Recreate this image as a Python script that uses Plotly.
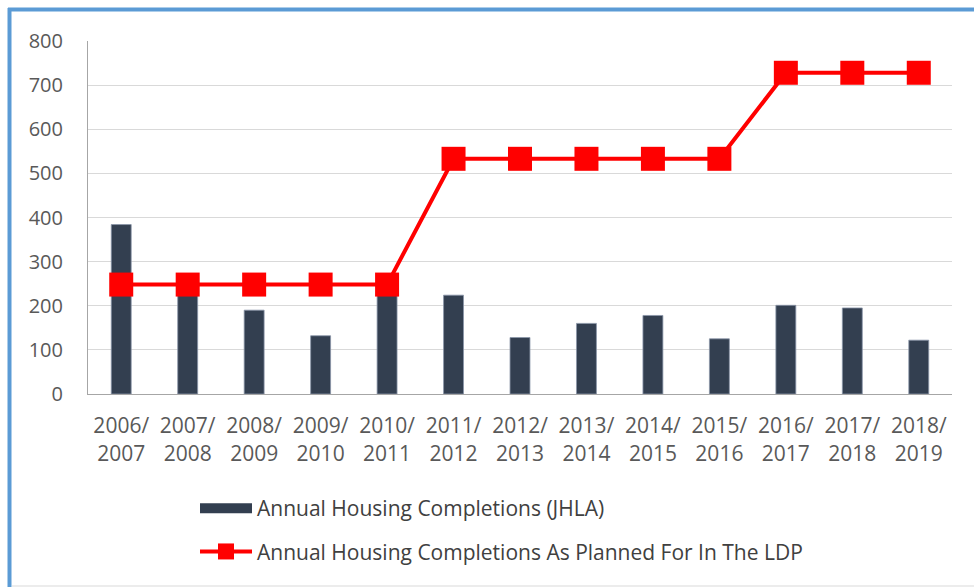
import plotly.graph_objects as go

periods = ["2006/<br>2007", "2007/<br>2008", "2008/<br>2009", "2009/<br>2010", "2010/<br>2011",
           "2011/<br>2012", "2012/<br>2013", "2013/<br>2014", "2014/<br>2015", "2015/<br>2016",
           "2016/<br>2017", "2017/<br>2018", "2018/<br>2019"]
completions_jhla = [384, 235, 190, 132, 232, 224, 128, 160, 178, 125, 201, 195, 122]
planned_ldp = [248, 248, 248, 248, 248, 533, 533, 533, 533, 533, 728, 728, 728]
y_ticks = [0, 100, 200, 300, 400, 500, 600, 700, 800]

BAR_NAME = "Annual Housing Completions (JHLA)"
LINE_NAME = "Annual Housing Completions As Planned For In The LDP"
BAR_COLOR = "#333F50"
LINE_COLOR = "#FF0000"
FONT = "Open Sans"

fig = go.Figure()
fig.add_trace(go.Bar(x=periods, y=completions_jhla, name=BAR_NAME, showlegend=False,
                     marker=dict(color=BAR_COLOR, line=dict(color="#8A96A8", width=0.8))))
fig.add_trace(go.Scatter(x=periods, y=planned_ldp, name=LINE_NAME, mode="lines+markers",
                         line=dict(color=LINE_COLOR, width=4),
                         marker=dict(symbol="square", size=24, color=LINE_COLOR),
                         legendgroup="b", showlegend=False))
# legend entries
fig.add_trace(go.Scatter(x=[None], y=[None], name=BAR_NAME, mode="lines",
                         line=dict(color=BAR_COLOR, width=13), legendgroup="a"))
fig.add_trace(go.Scatter(x=[None], y=[None], name=LINE_NAME, mode="lines+markers",
                         line=dict(color=LINE_COLOR, width=4),
                         marker=dict(symbol="square", size=16, color=LINE_COLOR),
                         legendgroup="b"))

L, R, T, B = 88, 22, 41, 193
W, H = 974, 587
pw, ph = W - L - R, H - T - B

def px_x(x):
    return (x - L) / pw

def px_y(y):
    return 1 - (y - T) / ph

fig.update_layout(
    width=W, height=H,
    margin=dict(l=L, r=R, t=T, b=B, pad=0),
    paper_bgcolor="white", plot_bgcolor="white",
    font=dict(family=FONT, size=19, color="#595959"),
    bargap=0.7,
    legend=dict(x=px_x(195), y=px_y(488), xanchor="left", yanchor="top",
                orientation="v", traceorder="grouped", tracegroupgap=13,
                itemwidth=52, font=dict(family=FONT, size=21, color="#404040"),
                bgcolor="rgba(0,0,0,0)"),
    xaxis=dict(range=[-0.5, len(periods) - 0.5], showgrid=False, showline=True,
               linecolor="#A6A6A6", linewidth=1,
               ticks="", ticklabelstandoff=13, tickfont=dict(size=21, color="#595959"),
               fixedrange=True),
    yaxis=dict(range=[0, 800], tickvals=y_ticks, showgrid=True, gridcolor="#D9D9D9",
               gridwidth=1, showline=True, linecolor="#A6A6A6", linewidth=1,
               ticks="", ticklabelstandoff=20, zeroline=False, fixedrange=True,
               tickfont=dict(size=20, color="#595959")),
    shapes=[
        dict(type="line", xref="paper", yref="paper", x0=px_x(9.5), x1=px_x(9.5),
             y0=px_y(H + 5), y1=px_y(8), line=dict(color="#5B9BD5", width=4)),
        dict(type="line", xref="paper", yref="paper", x0=px_x(8), x1=px_x(W + 5),
             y0=px_y(9.5), y1=px_y(9.5), line=dict(color="#5B9BD5", width=4)),
        dict(type="line", xref="paper", yref="paper", x0=px_x(12), x1=px_x(W + 5),
             y0=px_y(586), y1=px_y(586), line=dict(color="#D9D9D9", width=1)),
    ],
)

fig.write_html("out.html", config={"displayModeBar": False},
               post_script="document.body.style.margin='0';")
